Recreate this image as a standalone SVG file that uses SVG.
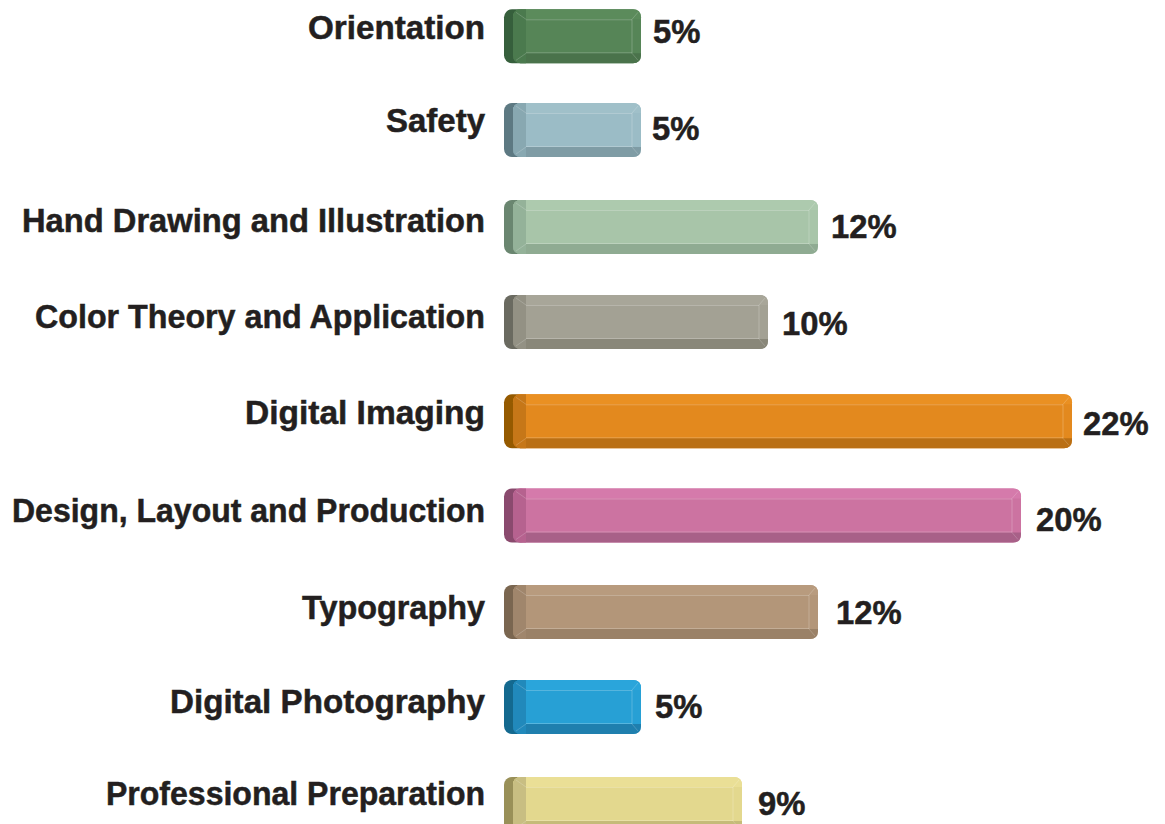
<svg xmlns="http://www.w3.org/2000/svg" width="1165" height="824" viewBox="0 0 1165 824">
<style>
text{font-family:"Liberation Sans",Arial,sans-serif;font-weight:bold;font-size:32.8px;fill:#231f20;stroke:#231f20;stroke-width:0.5}
.lbl{text-anchor:end}
.hl{stroke:#ffffff;stroke-opacity:.22;stroke-width:1;fill:none}
.hl2{stroke:#ffffff;stroke-opacity:.18;stroke-width:1;fill:none}
</style>
<rect width="1165" height="824" fill="#ffffff"/>
<g id="bar-orientation" transform="translate(0,9.3)">
<rect x="504" y="0" width="24" height="54" rx="8" fill="#365f3c"/>
<rect x="513" y="0" width="128" height="54" rx="8" fill="#568557"/>
<path d="M513,10V8Q513,0 521,0H633Q641,0 641,8V10Z" fill="#5b8b5b"/>
<path d="M513,44H641V46Q641,54 633,54H521Q513,54 513,46Z" fill="#4a734b"/>
<path d="M513,8Q513,0 521,0H526V54H521Q513,54 513,46Z" fill="#4b7a4e"/>
<path class="hl" d="M526,10.5H632M526,43.5H632M632,10V44"/>
<path class="hl2" d="M516,3L526,10M516,51L526,44M638,3L632,10M638,51L632,44"/>
<text x="485" y="30.2" class="lbl" textLength="177" lengthAdjust="spacingAndGlyphs">Orientation</text>
<text x="653" y="34">5%</text>
</g>
<g id="bar-safety" transform="translate(0,103)">
<rect x="504" y="0" width="24" height="54" rx="8" fill="#5d7982"/>
<rect x="513" y="0" width="128" height="54" rx="8" fill="#9bbcc6"/>
<path d="M513,10V8Q513,0 521,0H633Q641,0 641,8V10Z" fill="#a0c0c9"/>
<path d="M513,44H641V46Q641,54 633,54H521Q513,54 513,46Z" fill="#7f9ca5"/>
<path d="M513,8Q513,0 521,0H526V54H521Q513,54 513,46Z" fill="#88a8b1"/>
<path class="hl" d="M526,10.5H632M526,43.5H632M632,10V44"/>
<path class="hl2" d="M516,3L526,10M516,51L526,44M638,3L632,10M638,51L632,44"/>
<text x="485" y="29" class="lbl" textLength="99" lengthAdjust="spacingAndGlyphs">Safety</text>
<text x="652" y="37">5%</text>
</g>
<g id="bar-hand-drawing" transform="translate(0,200)">
<rect x="504" y="0" width="24" height="54" rx="8" fill="#6a8670"/>
<rect x="513" y="0" width="305" height="54" rx="8" fill="#a8c5a9"/>
<path d="M513,10V8Q513,0 521,0H810Q818,0 818,8V10Z" fill="#adcaae"/>
<path d="M513,44H818V46Q818,54 810,54H521Q513,54 513,46Z" fill="#8fab92"/>
<path d="M513,8Q513,0 521,0H526V54H521Q513,54 513,46Z" fill="#94b299"/>
<path class="hl" d="M526,10.5H809M526,43.5H809M809,10V44"/>
<path class="hl2" d="M516,3L526,10M516,51L526,44M815,3L809,10M815,51L809,44"/>
<text x="485" y="31.7" class="lbl" textLength="463" lengthAdjust="spacingAndGlyphs">Hand Drawing and Illustration</text>
<text x="831" y="37.7">12%</text>
</g>
<g id="bar-color-theory" transform="translate(0,295)">
<rect x="504" y="0" width="24" height="54" rx="8" fill="#6a6a60"/>
<rect x="513" y="0" width="255" height="54" rx="8" fill="#a3a194"/>
<path d="M513,10V8Q513,0 521,0H760Q768,0 768,8V10Z" fill="#a8a699"/>
<path d="M513,44H768V46Q768,54 760,54H521Q513,54 513,46Z" fill="#898779"/>
<path d="M513,8Q513,0 521,0H526V54H521Q513,54 513,46Z" fill="#939184"/>
<path class="hl" d="M526,10.5H759M526,43.5H759M759,10V44"/>
<path class="hl2" d="M516,3L526,10M516,51L526,44M765,3L759,10M765,51L759,44"/>
<text x="485" y="33.3" class="lbl" textLength="450" lengthAdjust="spacingAndGlyphs">Color Theory and Application</text>
<text x="782" y="40">10%</text>
</g>
<g id="bar-digital-imaging" transform="translate(0,394.3)">
<rect x="504" y="0" width="24" height="54" rx="8" fill="#955a00"/>
<rect x="513" y="0" width="559" height="54" rx="8" fill="#e3891e"/>
<path d="M513,10V8Q513,0 521,0H1064Q1072,0 1072,8V10Z" fill="#ea9022"/>
<path d="M513,44H1072V46Q1072,54 1064,54H521Q513,54 513,46Z" fill="#ba6f14"/>
<path d="M513,8Q513,0 521,0H526V54H521Q513,54 513,46Z" fill="#c67718"/>
<path class="hl" d="M526,10.5H1063M526,43.5H1063M1063,10V44"/>
<path class="hl2" d="M516,3L526,10M516,51L526,44M1069,3L1063,10M1069,51L1063,44"/>
<text x="485" y="29.7" class="lbl" textLength="240" lengthAdjust="spacingAndGlyphs">Digital Imaging</text>
<text x="1083" y="40.7">22%</text>
</g>
<g id="bar-design-layout" transform="translate(0,488.5)">
<rect x="504" y="0" width="24" height="54" rx="8" fill="#8a4a6e"/>
<rect x="513" y="0" width="508" height="54" rx="8" fill="#cc73a1"/>
<path d="M513,10V8Q513,0 521,0H1013Q1021,0 1021,8V10Z" fill="#d57aab"/>
<path d="M513,44H1021V46Q1021,54 1013,54H521Q513,54 513,46Z" fill="#a86088"/>
<path d="M513,8Q513,0 521,0H526V54H521Q513,54 513,46Z" fill="#b6628f"/>
<path class="hl" d="M526,10.5H1012M526,43.5H1012M1012,10V44"/>
<path class="hl2" d="M516,3L526,10M516,51L526,44M1018,3L1012,10M1018,51L1012,44"/>
<text x="485" y="33.2" class="lbl" textLength="473" lengthAdjust="spacingAndGlyphs">Design, Layout and Production</text>
<text x="1036" y="42.5">20%</text>
</g>
<g id="bar-typography" transform="translate(0,585)">
<rect x="504" y="0" width="24" height="54" rx="8" fill="#7a6650"/>
<rect x="513" y="0" width="305" height="54" rx="8" fill="#b39679"/>
<path d="M513,10V8Q513,0 521,0H810Q818,0 818,8V10Z" fill="#b89b7e"/>
<path d="M513,44H818V46Q818,54 810,54H521Q513,54 513,46Z" fill="#9a8167"/>
<path d="M513,8Q513,0 521,0H526V54H521Q513,54 513,46Z" fill="#a0866c"/>
<path class="hl" d="M526,10.5H809M526,43.5H809M809,10V44"/>
<path class="hl2" d="M516,3L526,10M516,51L526,44M815,3L809,10M815,51L809,44"/>
<text x="485" y="34.3" class="lbl" textLength="183" lengthAdjust="spacingAndGlyphs">Typography</text>
<text x="836" y="39">12%</text>
</g>
<g id="bar-digital-photography" transform="translate(0,680)">
<rect x="504" y="0" width="24" height="54" rx="8" fill="#14698f"/>
<rect x="513" y="0" width="128" height="54" rx="8" fill="#27a0d5"/>
<path d="M513,10V8Q513,0 521,0H633Q641,0 641,8V10Z" fill="#2aa5db"/>
<path d="M513,44H641V46Q641,54 633,54H521Q513,54 513,46Z" fill="#1f7fae"/>
<path d="M513,8Q513,0 521,0H526V54H521Q513,54 513,46Z" fill="#2189bb"/>
<path class="hl" d="M526,10.5H632M526,43.5H632M632,10V44"/>
<path class="hl2" d="M516,3L526,10M516,51L526,44M638,3L632,10M638,51L632,44"/>
<text x="485" y="32.7" class="lbl" textLength="315" lengthAdjust="spacingAndGlyphs">Digital Photography</text>
<text x="655" y="38.3">5%</text>
</g>
<g id="bar-professional-preparation" transform="translate(0,777)">
<rect x="504" y="0" width="24" height="54" rx="8" fill="#999058"/>
<rect x="513" y="0" width="229" height="54" rx="8" fill="#e3d88e"/>
<path d="M513,10V8Q513,0 521,0H734Q742,0 742,8V10Z" fill="#eadf96"/>
<path d="M513,44H742V46Q742,54 734,54H521Q513,54 513,46Z" fill="#c5bb79"/>
<path d="M513,8Q513,0 521,0H526V54H521Q513,54 513,46Z" fill="#c8be82"/>
<path class="hl" d="M526,10.5H733M526,43.5H733M733,10V44"/>
<path class="hl2" d="M516,3L526,10M516,51L526,44M739,3L733,10M739,51L733,44"/>
<text x="485" y="28" class="lbl" textLength="379" lengthAdjust="spacingAndGlyphs">Professional Preparation</text>
<text x="758" y="38">9%</text>
</g>
</svg>
